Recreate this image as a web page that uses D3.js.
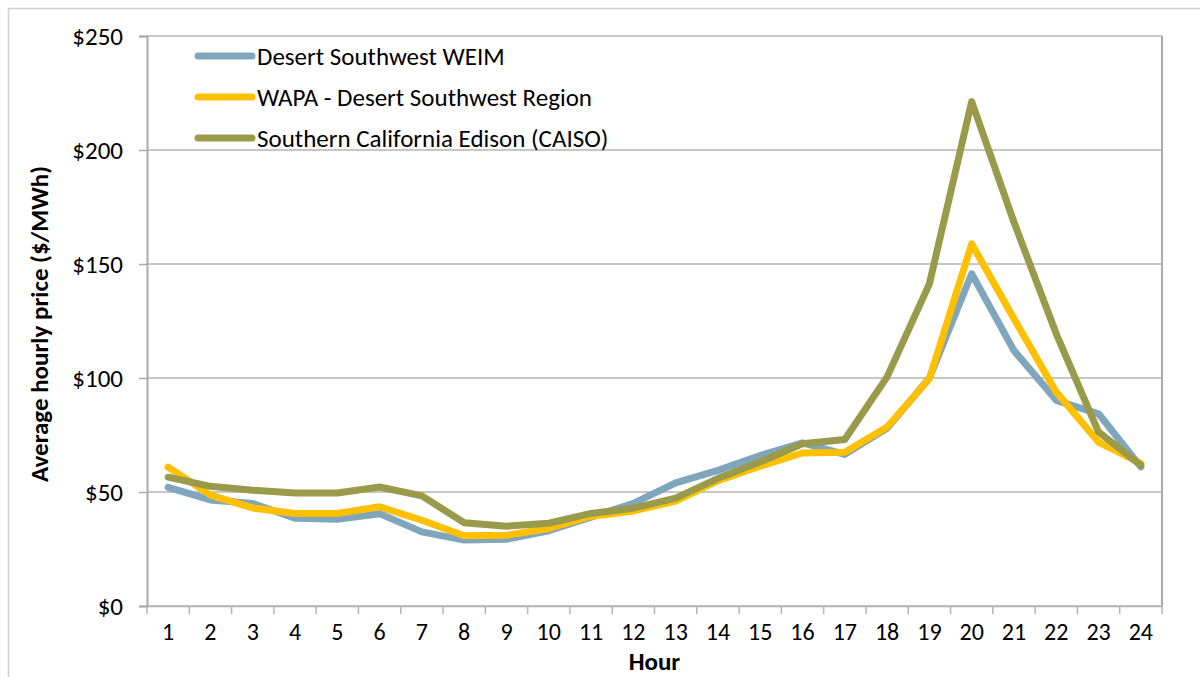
<!DOCTYPE html>
<html lang="en">
<head>
<meta charset="utf-8"/>
<title>Average hourly price</title>
<script src="https://d3js.org/d3.v7.min.js"></script>
<style>
  body { margin: 0; background: #fff; }
  text { font-family: Carlito, Calibri, Lato, "Open Sans", sans-serif; fill: #000; }
</style>
</head>
<body>
<script>
var hours = d3.range(1, 25);
var seriesNames = ["Desert Southwest WEIM", "WAPA - Desert Southwest Region", "Southern California Edison (CAISO)"];
var weim = [52, 46.5, 45, 38.5, 38, 40.5, 32.5, 28.9, 29.3, 33, 39, 45, 54, 59.5, 66, 71.5, 66.5, 78, 100, 145.7, 112, 90.2, 84.3, 61];
var wapa = [60.9, 48.6, 43, 40.6, 40.6, 43.5, 37.6, 30.8, 31, 34, 39.4, 41.7, 46, 55, 61.3, 67.1, 67.4, 78.5, 99.7, 158.8, 126, 93.8, 71.9, 62.5];
var sce  = [56.5, 52.5, 50.8, 49.6, 49.6, 52.2, 48.3, 36.5, 35, 36.3, 40.6, 42.9, 47.3, 56, 63.2, 71.2, 73, 100.5, 141.3, 221.2, 168.3, 119.4, 76.3, 61.7];
var yTicks = [0, 50, 100, 150, 200, 250];
var colors = ["#7FA6BC", "#FFC000", "#9A9B4A"];

var width = 1200, height = 677;
var plotLeft = 147, plotRight = 1162, plotTop = 36, plotBottom = 606;
var fs = 25;

var svg = d3.select("body").append("svg")
    .attr("width", width).attr("height", height);

// chart frame
svg.append("rect")
    .attr("x", 8.5).attr("y", 8.5)
    .attr("width", 1220).attr("height", 700)
    .attr("fill", "none").attr("stroke", "#d0d0d0").attr("stroke-width", 1.5);

var x = d3.scaleBand().domain(hours).range([plotLeft, plotRight]);
var y = d3.scaleLinear().domain([0, 250]).range([plotBottom, plotTop]);

// gridlines
svg.append("g").selectAll("line")
    .data(yTicks)
    .enter().append("line")
    .attr("x1", plotLeft).attr("x2", plotRight)
    .attr("y1", function(d) { return y(d); })
    .attr("y2", function(d) { return y(d); })
    .attr("stroke", "#b4b4b4").attr("stroke-width", 1.5);

// right border of plot area
svg.append("line")
    .attr("x1", plotRight).attr("x2", plotRight).attr("y1", plotTop).attr("y2", plotBottom)
    .attr("stroke", "#aaaaaa").attr("stroke-width", 2);

// y axis
var yAxis = svg.append("g")
    .attr("transform", "translate(" + plotLeft + ",0)")
    .call(d3.axisLeft(y).tickValues(yTicks).tickSize(8).tickPadding(16)
        .tickFormat(function(d) { return "$" + d; }));
yAxis.select(".domain").attr("stroke", "#aaaaaa").attr("stroke-width", 2);
yAxis.selectAll(".tick line").attr("stroke", "#aaaaaa").attr("stroke-width", 1.5);
yAxis.selectAll("text").attr("font-size", fs).attr("dy", "0.35em");

// x axis
var xAxis = svg.append("g")
    .attr("transform", "translate(0," + plotBottom + ")")
    .call(d3.axisBottom(x).tickSize(0).tickPadding(17));
xAxis.select(".domain").attr("stroke", "#b4b4b4").attr("stroke-width", 1.5);
xAxis.selectAll("text").attr("font-size", 24);

var xEdges = hours.map(function(h) { return x(h); }).concat([plotRight]);
svg.append("g").selectAll("line")
    .data(xEdges)
    .enter().append("line")
    .attr("x1", function(d) { return d; }).attr("x2", function(d) { return d; })
    .attr("y1", plotBottom).attr("y2", plotBottom + 8)
    .attr("stroke", "#b4b4b4").attr("stroke-width", 1.5);

// axis titles
svg.append("text")
    .attr("transform", "translate(48," + ((plotTop + plotBottom) / 2 + 3) + ") rotate(-90)")
    .attr("text-anchor", "middle")
    .attr("font-size", fs).attr("font-weight", "bold")
    .text("Average hourly price ($/MWh)");

svg.append("text")
    .attr("x", (plotLeft + plotRight) / 2).attr("y", 670)
    .attr("text-anchor", "middle")
    .attr("font-size", fs).attr("font-weight", "bold")
    .text("Hour");

// lines
var line = d3.line()
    .x(function(d, i) { return x(hours[i]) + x.bandwidth() / 2; })
    .y(function(d) { return y(d); });

var allSeries = [weim, wapa, sce];
svg.append("g").selectAll("path")
    .data(allSeries)
    .enter().append("path")
    .attr("d", line)
    .attr("fill", "none")
    .attr("stroke", function(d, i) { return colors[i]; })
    .attr("stroke-width", 7)
    .attr("stroke-linejoin", "round")
    .attr("stroke-linecap", "round");

// legend
var legend = svg.append("g").selectAll("g")
    .data(seriesNames)
    .enter().append("g")
    .attr("transform", function(d, i) { return "translate(198," + (56 + i * 41) + ")"; });

legend.append("line")
    .attr("x1", 0).attr("x2", 54)
    .attr("stroke", function(d, i) { return colors[i]; })
    .attr("stroke-width", 7)
    .attr("stroke-linecap", "round");

legend.append("text")
    .attr("x", 59).attr("dy", "0.35em")
    .attr("font-size", fs)
    .text(function(d) { return d; });
</script>
</body>
</html>
